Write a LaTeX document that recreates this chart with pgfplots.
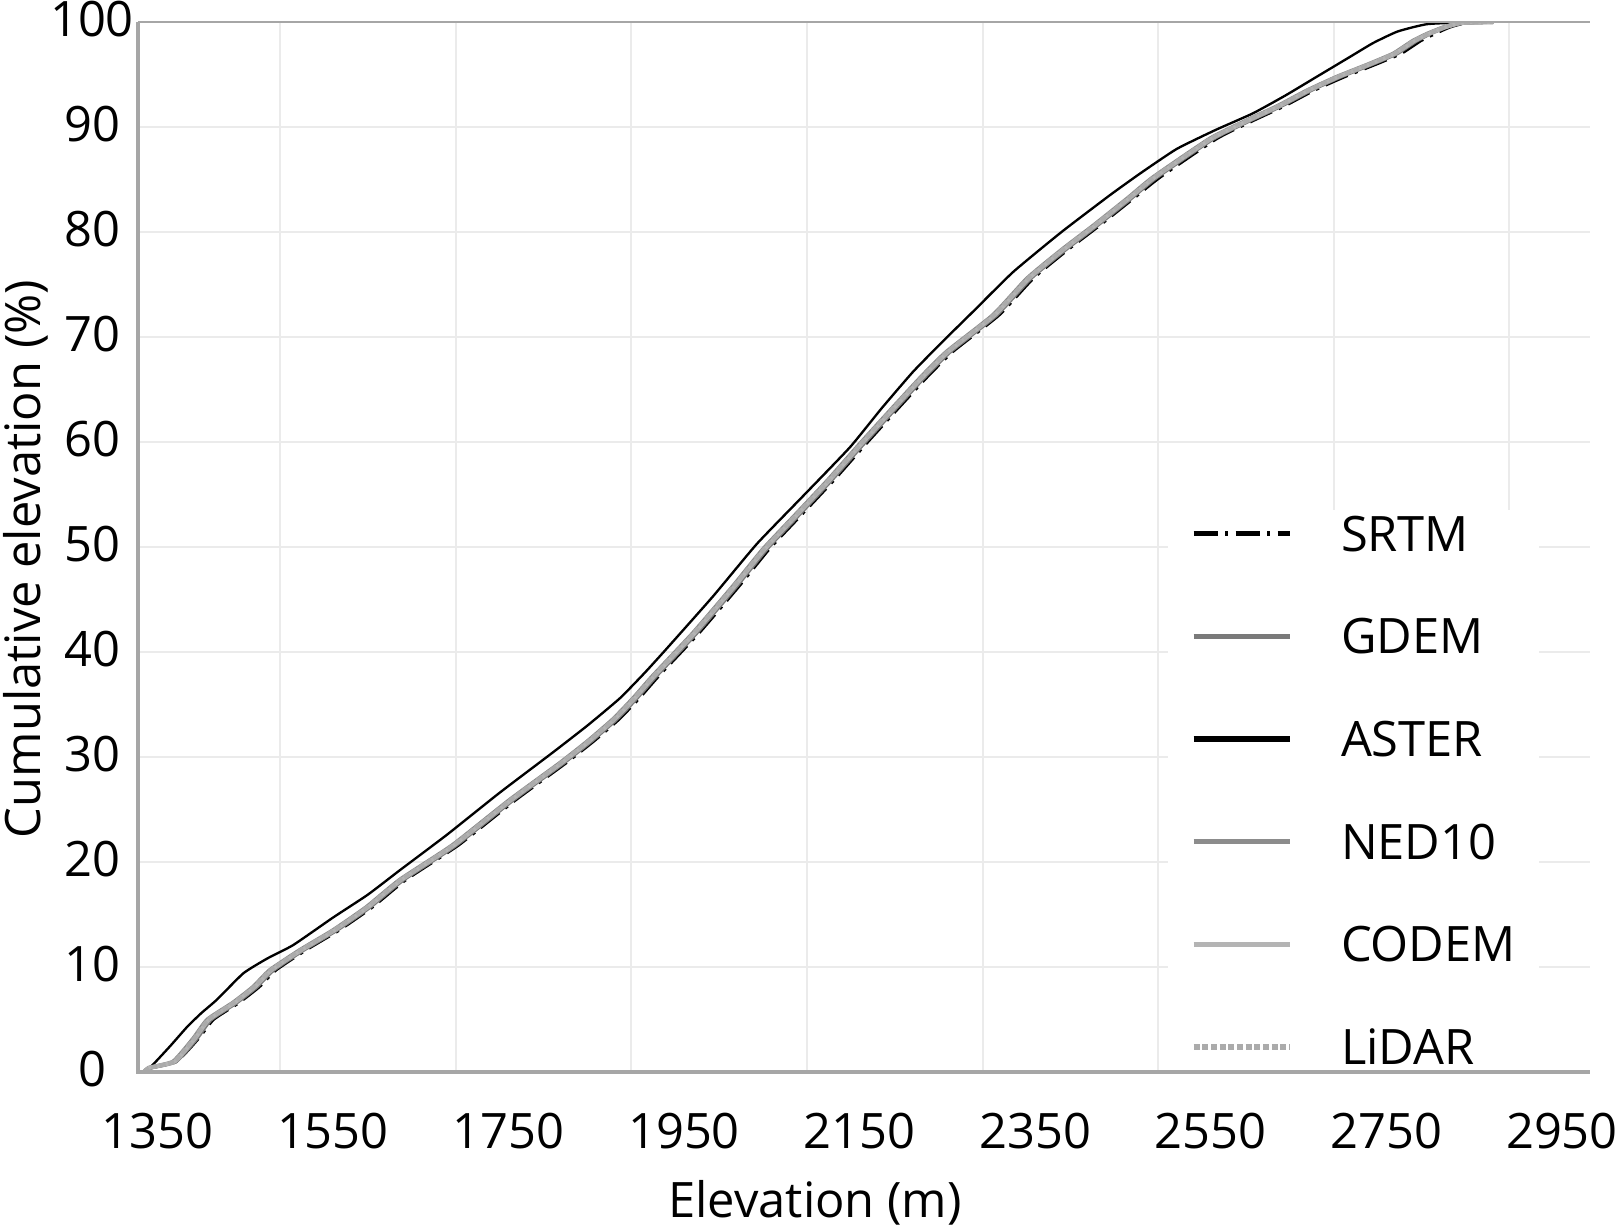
\documentclass[border=0pt]{standalone}
\usepackage{fontspec}
\setmainfont{Open Sans}
\usepackage{pgfplots}
\usepackage{pgfplotstable}
\pgfplotsset{compat=1.18}
\usetikzlibrary{calc}
\definecolor{gridc}{HTML}{EBEBEB}
\definecolor{axc}{HTML}{A6A6A6}
\definecolor{gdemc}{HTML}{7A7A7A}
\definecolor{nedc}{HTML}{8C8C8C}
\definecolor{codemc}{HTML}{B4B4B4}
\definecolor{lidarc}{HTML}{ABABAB}

\pgfplotstableread{
x y
1335 0
1340 0.4
1368 1.0
1391 3.2
1407 5.0
1436 6.6
1459 8.1
1478 9.7
1512 11.6
1550 13.5
1588 15.7
1626 18.3
1686 21.6
1751 25.9
1808 29.4
1840 31.5
1869 33.6
1892 35.6
1914 37.7
1960 41.8
2005 46.2
2040 49.8
2076 53.0
2113 56.3
2150 59.8
2188 63.3
2220 66.2
2249 68.6
2302 72.1
2341 75.6
2380 78.3
2416 80.6
2455 83.2
2484 85.2
2549 88.9
2590 90.6
2626 92.0
2660 93.5
2694 94.8
2730 96.0
2758 97.0
2780 98.2
2797 98.9
2815 99.5
2834 99.9
2872 100
}\nedten

\pgfplotstableread{
x y
1335 0
1343 0.4
1372 1.0
1397 3.2
1414 5.0
1443 6.6
1466 8.1
1485 9.7
1519 11.6
1557 13.5
1595 15.7
1633 18.3
1693 21.6
1758 25.9
1815 29.4
1847 31.5
1876 33.6
1899 35.6
1921 37.7
1967 41.8
2012 46.2
2047 49.8
2083 53.0
2120 56.3
2157 59.8
2195 63.3
2227 66.2
2256 68.6
2309 72.1
2348 75.6
2387 78.3
2423 80.6
2462 83.2
2492 85.2
2557 88.9
2598 90.6
2634 92.0
2668 93.5
2703 94.8
2739 96.0
2767 97.0
2789 98.2
2806 98.9
2822 99.5
2840 99.9
2872 100
}\srtm

\pgfplotstableread{
x y
1335 0
1342 0.4
1371 1.0
1395 3.2
1411 5.0
1440 6.6
1463 8.1
1482 9.7
1516 11.6
1554 13.5
1592 15.7
1630 18.3
1690 21.6
1755 25.9
1812 29.4
1844 31.5
1873 33.6
1896 35.6
1918 37.7
1964 41.8
2009 46.2
2044 49.8
2080 53.0
2117 56.3
2154 59.8
2192 63.3
2224 66.2
2253 68.6
2306 72.1
2345 75.6
2384 78.3
2420 80.6
2459 83.2
2488 85.2
2553 88.9
2594 90.6
2630 92.0
2664 93.5
2698 94.8
2734 96.0
2762 97.0
2784 98.2
2800 98.9
2818 99.5
2836 99.9
2872 100
}\gdem

\pgfplotstableread{
x y
1335 0
1345 0.7
1365 2.5
1384 4.3
1400 5.6
1418 6.9
1448 9.4
1475 10.8
1505 12.1
1550 14.7
1590 16.9
1626 19.2
1680 22.6
1740 26.6
1800 30.4
1840 33.0
1877 35.6
1905 38.0
1930 40.3
1983 45.3
2033 50.3
2085 54.8
2139 59.5
2175 63.2
2211 66.7
2245 69.6
2279 72.4
2325 76.2
2380 80.0
2435 83.5
2470 85.6
2511 87.9
2555 89.7
2598 91.3
2635 93.0
2671 94.8
2709 96.7
2735 98.0
2763 99.1
2797 99.8
2850 100
}\aster

\pgfplotstableread{
x y
1335 0
1341 0.4
1370 1.0
1393 3.2
1409 5.0
1438 6.6
1461 8.1
1480 9.7
1514 11.6
1552 13.5
1590 15.7
1628 18.3
1688 21.6
1753 25.9
1810 29.4
1842 31.5
1871 33.6
1894 35.6
1916 37.7
1962 41.8
2007 46.2
2042 49.8
2078 53.0
2115 56.3
2152 59.8
2190 63.3
2222 66.2
2251 68.6
2304 72.1
2343 75.6
2382 78.3
2418 80.6
2457 83.2
2486 85.2
2551 88.9
2592 90.6
2628 92.0
2662 93.5
2696 94.8
2732 96.0
2760 97.0
2782 98.2
2799 98.9
2817 99.5
2835 99.9
2872 100
}\codem

\pgfplotstableread{
x y
1335 0
1341 0.4
1369 1.0
1392 3.2
1408 5.0
1437 6.6
1460 8.1
1479 9.7
1513 11.6
1551 13.5
1589 15.7
1627 18.3
1687 21.6
1752 25.9
1809 29.4
1841 31.5
1870 33.6
1893 35.6
1915 37.7
1961 41.8
2006 46.2
2041 49.8
2077 53.0
2114 56.3
2151 59.8
2189 63.3
2221 66.2
2250 68.6
2303 72.1
2342 75.6
2381 78.3
2417 80.6
2456 83.2
2485 85.2
2550 88.9
2591 90.6
2627 92.0
2661 93.5
2695 94.8
2731 96.0
2759 97.0
2781 98.2
2798 98.9
2816 99.5
2834 99.9
2872 100
}\lidar

\begin{document}
\begin{tikzpicture}
\begin{axis}[
  scale only axis, width=435.6bp, height=315bp,
  xmin=1328, xmax=2982, ymin=0, ymax=100,
  axis line style={draw=none},
  xtick={1350,1550,...,2950},
  ytick={0,10,...,100},
  extra x ticks={1490,1690,...,2890},
  extra x tick labels={},
  extra x tick style={grid=major},
  ymajorgrids,
  major grid style={draw=gridc, line width=0.6bp},
  major tick length=0pt,
  tick style={draw=none},
  /pgf/number format/assume math mode=true,
  /pgf/number format/1000 sep={},
  tick label style={font=\fontsize{14.7}{17}\selectfont, inner sep=0pt},
  xticklabel style={anchor=north, yshift=-12bp},
  yticklabel style={anchor=center, xshift=-13.8bp, yshift=0.8bp},
  xlabel={Elevation (m)},
  ylabel={Cumulative elevation (\%)},
  label style={font=\fontsize{14.7}{17}\selectfont},
  xlabel style={at={(axis description cs:0.4663,-0.1245)}, anchor=center},
  ylabel style={at={(axis description cs:-0.0771,0.4886)}, anchor=center},
  legend cell align=left,
  legend style={at={(rel axis cs:0.7087,0.5362)}, anchor=north west,
    draw=none, fill=white, inner xsep=7bp, inner ysep=2bp,
    row sep=20.3bp, column sep=14.4bp,
    font=\fontsize{14.7}{17}\selectfont,
    nodes={inner sep=0pt, text height=10.5bp, text depth=0pt}},
  legend image code/.code={\draw[#1, /tikz/line width=1.6bp] (0bp,0bp) -- (29bp,0bp);},
  every axis plot/.append style={smooth, tension=0.3},
]
\addplot[black, line width=0.9bp, dash pattern=on 7.2bp off 2.2bp on 1bp off 2.2bp] table {\srtm};
\addlegendentry{SRTM}
\addplot[gdemc, line width=1.2bp] table {\gdem};
\addlegendentry{GDEM}
\addplot[black, line width=0.7bp] table {\aster};
\addlegendentry{ASTER}
\addplot[nedc, line width=1.2bp] table {\nedten};
\addlegendentry{NED10}
\addplot[codemc, line width=1.2bp] table {\codem};
\addlegendentry{CODEM}
\addplot[lidarc, line width=1.2bp, dash pattern=on 1.8bp off 0.8bp] table {\lidar};
\addlegendentry{LiDAR}
\coordinate (bl) at (rel axis cs:0,0);
\coordinate (tr) at (rel axis cs:1,1);
\end{axis}
\draw[axc, line width=0.7bp] (bl |- tr) -- (tr);
\draw[axc, line width=1.2bp] (bl |- tr) -- (bl) -- (bl -| tr);
\pgfresetboundingbox
\path[use as bounding box] ($(bl)+(-41.4bp,-46.8bp)$) rectangle ($(tr)+(9bp,6.6bp)$);
\end{tikzpicture}
\end{document}
